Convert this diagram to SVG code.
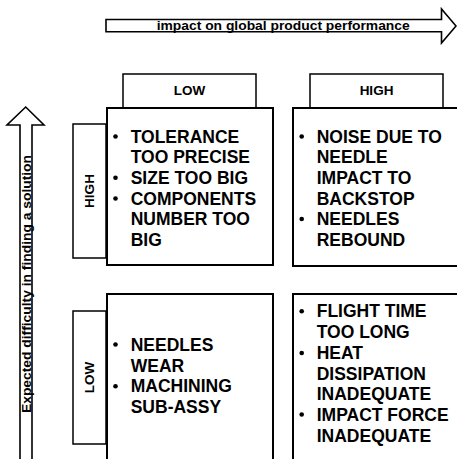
<svg xmlns="http://www.w3.org/2000/svg" width="457" height="459" viewBox="0 0 457 459">
<style>
.box{fill:#fff;stroke:#000;stroke-width:2}
.lab{fill:#fff;stroke:#000;stroke-width:1.5}
.arr{fill:#fff;stroke:#000;stroke-width:1.6;stroke-linejoin:miter}
.t{font-family:"Liberation Sans",Arial,sans-serif;font-weight:bold;fill:#000}
.cell{font-size:17.5px}
.hdr{font-size:13.5px;text-anchor:middle}
.ax{font-size:13px}
</style>
<rect width="457" height="459" fill="#fff"/>
<g id="connectors">
  <path class="arr" d="M106,19.5 H441.5 V9 L456,26 L441.5,43 V31.7 H106 Z"/>
  <path class="arr" d="M20,462 V125 H7 L25.7,107 L44,125 H32 V462"/>
</g>
<g id="axis-x-label"><text class="t ax" x="156.7" y="29.6" textLength="253" lengthAdjust="spacingAndGlyphs">impact on global product performance</text></g>
<g id="axis-y-label"><text class="t ax" transform="translate(30.5,413) rotate(-90)" x="0" y="0" textLength="258" lengthAdjust="spacingAndGlyphs">Expected difficulty in finding a solution</text></g>
<g id="col-low"><rect class="lab" x="123" y="74" width="133" height="34"/><text class="t hdr" x="189.5" y="95">LOW</text></g>
<g id="col-high"><rect class="lab" x="310" y="74" width="133" height="34"/><text class="t hdr" x="376.5" y="95">HIGH</text></g>
<g id="row-high"><rect class="lab" x="73" y="124" width="33" height="134"/><text class="t hdr" transform="translate(94,191) rotate(-90)">HIGH</text></g>
<g id="row-low"><rect class="lab" x="73" y="311" width="33" height="133"/><text class="t hdr" transform="translate(94,377.5) rotate(-90)">LOW</text></g>
<g id="cell-high-low">
  <rect class="box" x="107" y="108" width="166" height="157"/>
  <circle cx="115.5" cy="136.5" r="2.3"/><circle cx="115.5" cy="177.8" r="2.3"/><circle cx="115.5" cy="198.5" r="2.3"/>
  <text class="t cell" x="130.7" y="142.7">TOLERANCE</text>
  <text class="t cell" x="130.7" y="163.3">TOO PRECISE</text>
  <text class="t cell" x="130.7" y="184">SIZE TOO BIG</text>
  <text class="t cell" x="130.7" y="204.7">COMPONENTS</text>
  <text class="t cell" x="130.7" y="225.3">NUMBER TOO</text>
  <text class="t cell" x="130.7" y="245.5">BIG</text>
</g>
<g id="cell-high-high">
  <rect class="box" x="293" y="108" width="180" height="158"/>
  <circle cx="301.7" cy="136.5" r="2.3"/><circle cx="301.7" cy="219" r="2.3"/>
  <text class="t cell" x="316.7" y="142.7">NOISE DUE TO</text>
  <text class="t cell" x="316.7" y="163.3">NEEDLE</text>
  <text class="t cell" x="316.7" y="184">IMPACT TO</text>
  <text class="t cell" x="316.7" y="204.7">BACKSTOP</text>
  <text class="t cell" x="316.7" y="225.3">NEEDLES</text>
  <text class="t cell" x="316.7" y="245.5">REBOUND</text>
</g>
<g id="cell-low-low">
  <rect class="box" x="107" y="294" width="166" height="180"/>
  <circle cx="115.5" cy="344.5" r="2.3"/><circle cx="115.5" cy="386.2" r="2.3"/>
  <text class="t cell" x="130.7" y="350.7">NEEDLES</text>
  <text class="t cell" x="130.7" y="371.7">WEAR</text>
  <text class="t cell" x="130.7" y="392.3">MACHINING</text>
  <text class="t cell" x="130.7" y="413.3">SUB-ASSY</text>
</g>
<g id="cell-low-high">
  <rect class="box" x="293" y="294" width="180" height="180"/>
  <circle cx="301.7" cy="311.2" r="2.3"/><circle cx="301.7" cy="353" r="2.3"/><circle cx="301.7" cy="414.5" r="2.3"/>
  <text class="t cell" x="316.7" y="317.3">FLIGHT TIME</text>
  <text class="t cell" x="316.7" y="338.3">TOO LONG</text>
  <text class="t cell" x="316.7" y="359">HEAT</text>
  <text class="t cell" x="316.7" y="379.5">DISSIPATION</text>
  <text class="t cell" x="316.7" y="400.2">INADEQUATE</text>
  <text class="t cell" x="316.7" y="420.7">IMPACT FORCE</text>
  <text class="t cell" x="316.7" y="441.5">INADEQUATE</text>
</g>
</svg>
